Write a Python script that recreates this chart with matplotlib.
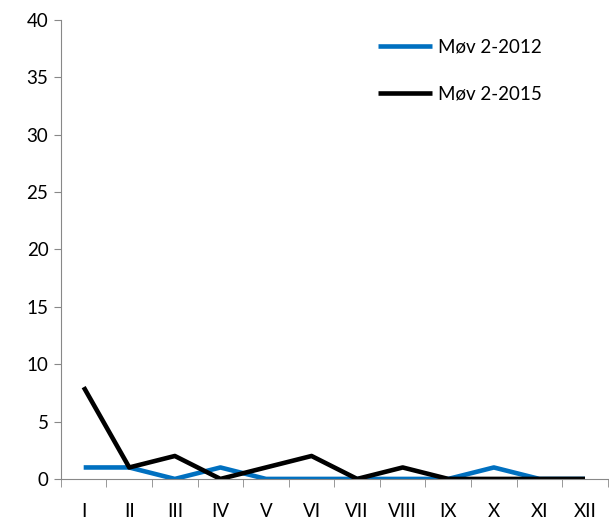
import matplotlib
matplotlib.use("Agg")
import matplotlib.pyplot as plt
import numpy as np

months = ["I", "II", "III", "IV", "V", "VI", "VII", "VIII", "IX", "X", "XI", "XII"]
mov_2012 = [1, 1, 0, 1, 0, 0, 0, 0, 0, 1, 0, 0]
mov_2015 = [8, 1, 2, 0, 1, 2, 0, 1, 0, 0, 0, 0]

plt.rcParams['font.family'] = ['Lato', 'DejaVu Sans']

fig = plt.figure(figsize=(6.09, 5.24), dpi=100)
ax = fig.add_axes([0.100, 0.086, 0.898, 0.876])

x = np.arange(len(months))
ax.plot(x, mov_2012, color="#0070C0", lw=3.3, label="Møv 2-2012", solid_capstyle="butt")
ax.plot(x, mov_2015, color="black", lw=3.3, label="Møv 2-2015", solid_capstyle="butt")

ax.set_xlim(-0.5, len(months) - 0.5)
ax.set_ylim(0, 40)
ax.set_yticks(range(0, 41, 5))
ax.tick_params(axis="y", labelsize=13.5, length=5, color="#888888", pad=4)
ax.set_xticks(x)
ax.set_xticklabels(months, fontsize=13.5)
ax.tick_params(axis="x", length=0, pad=17)
ax.set_xticks(np.arange(-0.5, len(months)), minor=True)
ax.tick_params(axis="x", which="minor", length=6, color="#888888")

for s in ["top", "right"]:
    ax.spines[s].set_visible(False)
for s in ["left", "bottom"]:
    ax.spines[s].set_color("#888888")

ax.legend(loc="upper left", bbox_to_anchor=(0.58, 0.96), frameon=False,
          fontsize=13.5, handlelength=2.9, handletextpad=0.3, labelspacing=1.6,
          borderpad=0, borderaxespad=0)

fig.savefig("out.png", dpi=100)
